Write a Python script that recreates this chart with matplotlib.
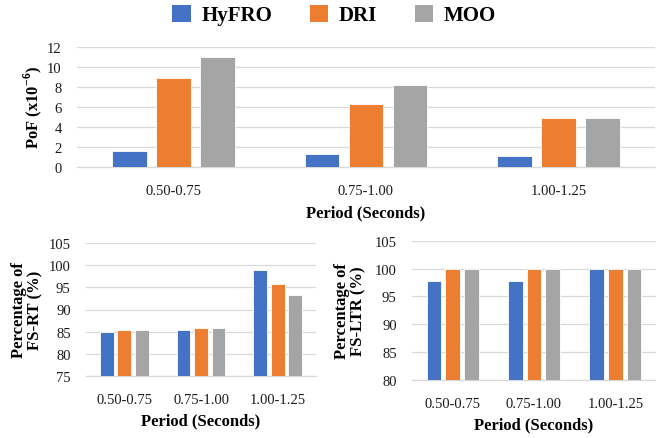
import matplotlib
matplotlib.use("Agg")
import matplotlib.pyplot as plt
import numpy as np
from matplotlib.patches import Patch

plt.rcParams['font.family'] = ['Liberation Serif', 'DejaVu Serif']
plt.rcParams['mathtext.fontset'] = 'custom'
plt.rcParams['mathtext.rm'] = 'Liberation Serif'
plt.rcParams['mathtext.bf'] = 'Liberation Serif:bold'

categories = ["0.50-0.75", "0.75-1.00", "1.00-1.25"]
series_names = ["HyFRO", "DRI", "MOO"]
colors = ["#4472C4", "#ED7D31", "#A5A5A5"]

pof_hyfro = [1.6, 1.3, 1.1]
pof_dri = [8.85, 6.3, 4.9]
pof_moo = [10.95, 8.2, 4.9]

fsrt_hyfro = [85.0, 85.4, 98.9]
fsrt_dri = [85.4, 85.8, 95.7]
fsrt_moo = [85.4, 85.8, 93.3]

fsltr_hyfro = [97.8, 97.8, 100.0]
fsltr_dri = [100.0, 100.0, 100.0]
fsltr_moo = [100.0, 100.0, 100.0]

W, H = 656, 439
fig = plt.figure(figsize=(W / 100, H / 100), dpi=100)

def px_axes(x0, y0, x1, y1):
    return fig.add_axes([x0 / W, 1 - y1 / H, (x1 - x0) / W, (y1 - y0) / H])

grid_c = "#D9D9D9"
bar_w = 0.18
step = 0.228

def draw(ax, data, ylim, yticks, tickpad, labelpad):
    x = np.arange(len(categories))
    for i, (vals, c) in enumerate(zip(data, colors)):
        ax.bar(x + (i - 1) * step, np.array(vals) - ylim[0], bottom=ylim[0],
               width=bar_w, color=c, edgecolor="white", linewidth=0.6, zorder=3)
    ax.set_xlim(-0.5, len(categories) - 0.5)
    ax.set_ylim(*ylim)
    ax.set_yticks(yticks)
    ax.set_xticks(x)
    ax.set_xticklabels(categories)
    ax.grid(axis="y", color=grid_c, linewidth=0.9, zorder=0)
    for s in ["top", "right", "left"]:
        ax.spines[s].set_visible(False)
    ax.spines["bottom"].set_color(grid_c)
    ax.spines["bottom"].set_linewidth(0.9)
    ax.tick_params(axis="both", length=0, labelsize=10.5, colors="#1a1a1a")
    ax.tick_params(axis="y", pad=11)
    ax.tick_params(axis="x", pad=tickpad)
    ax.set_xlabel("Period (Seconds)", fontsize=12, fontweight="bold", labelpad=labelpad)

ax1 = px_axes(77, 47.7, 655, 168.3)
draw(ax1, [pof_hyfro, pof_dri, pof_moo], (0, 12), range(0, 13, 2), 12, 5)
fig.text(33 / W, 1 - 107 / H, r"PoF (x10$^{\mathbf{-6}}$)", rotation=90,
         ha="center", va="center", fontsize=12, fontweight="bold")

ax2 = px_axes(86, 244, 316, 377)
draw(ax2, [fsrt_hyfro, fsrt_dri, fsrt_moo], (75, 105), range(75, 106, 5), 12, 5)
fig.text(27 / W, 1 - 310 / H, "Percentage of\nFS-RT (%)", rotation=90,
         ha="center", va="center", fontsize=12, fontweight="bold", linespacing=1.0)

ax3 = px_axes(412, 241.7, 656, 381)
draw(ax3, [fsltr_hyfro, fsltr_dri, fsltr_moo], (80, 105), range(80, 106, 5), 12, 5)
fig.text(350 / W, 1 - 311 / H, "Percentage of\nFS-LTR (%)", rotation=90,
         ha="center", va="center", fontsize=12, fontweight="bold", linespacing=1.0)

handles = [Patch(facecolor=c, edgecolor="none") for c in colors]
fig.legend(handles, series_names, loc="center", bbox_to_anchor=(334 / W, 1 - 16 / H),
           ncol=3, frameon=False, prop={"size": 15, "weight": "bold"},
           handlelength=0.9, handleheight=0.9, handletextpad=0.5, columnspacing=1.8)

fig.savefig("out.png", dpi=100)
